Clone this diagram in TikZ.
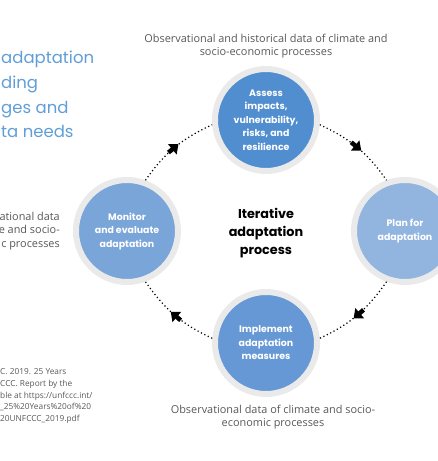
\documentclass[tikz,border=0pt]{standalone}
\usepackage{fontspec}
\setmainfont{Open Sans}
\newfontfamily\pop{Poppins}
\usetikzlibrary{arrows.meta,decorations.markings}
\definecolor{ring}{RGB}{234,234,234}
\definecolor{bA}{RGB}{80,142,208}
\definecolor{bM}{RGB}{122,165,216}
\definecolor{bP}{RGB}{146,181,224}
\definecolor{bI}{RGB}{102,152,213}
\definecolor{txtgray}{RGB}{88,88,88}
\definecolor{titleblue}{RGB}{96,158,216}
\tikzset{
  circ/.style={circle,draw=ring,line width=6pt,minimum size=102pt,inner sep=0pt},
  ctext/.style={text=white,align=center,font=\pop\bfseries\fontsize{9.4}{13.5}\selectfont},
  side/.style={text=txtgray,font=\fontsize{10.9}{13.3}\selectfont,inner sep=0pt},
  cyc/.style={line width=1.2pt,dash pattern=on 1.2pt off 2.6pt,
    postaction={decorate},
    decoration={markings,mark=at position 0.5 with {\draw[solid,line width=4.5pt,-{Triangle[length=8pt,width=13pt]}] (-8pt,0) -- (5pt,0);}}}
}
\begin{document}
\begin{tikzpicture}[x=1pt,y=1pt]
\useasboundingbox (0,0) rectangle (437,461);
% circles
\node[circ,fill=bA] (assess) at (266,341) {};
\node[circ,fill=bM] (monitor) at (127,230) {};
\node[circ,fill=bP] (plan) at (405,230) {};
\node[circ,fill=bI] (impl) at (266,118) {};
\node[ctext] (assessT) at (assess) {Assess\\impacts,\\vulnerability,\\risks, and\\resilience};
\node[ctext] (monitorT) at (monitor) {Monitor\\and evaluate\\adaptation};
\node[ctext] (planT) at (plan) {Plan for\\adaptation};
\node[ctext] (implT) at (impl) {Implement\\adaptation\\measures};
% centre
\node[align=center,font=\pop\bfseries\fontsize{12.8}{18}\selectfont] (centre) at (266,228) {Iterative\\adaptation\\process};
% cycle connectors
\draw[cyc] (assess.-5) to[out=-25,in=125] (plan.110);
\draw[cyc] (plan.-110) to[out=-125,in=25] (impl.5);
\draw[cyc] (impl.175) to[out=155,in=-55] (monitor.-70);
\draw[cyc] (monitor.70) to[out=55,in=-155] (assess.185);
% labels
\node[side,align=center] (topL) at (266,415) {Observational and historical data of climate and\\socio-economic processes};
\node[side,align=center] (botL) at (273,44) {Observational data of climate and socio-\\economic processes};
\node[side,align=right,anchor=east] (leftL) at (60,230) {ational data\\e and socio-\\c processes};
\node[side,align=left,anchor=north west,font=\fontsize{8.3}{11.9}\selectfont] (cite) at (0,93) {C. 2019. 25 Years\\CCC. Report by the\\ble at https://unfccc.int/\\\_25\%20Years\%20of\%20\\20UNFCCC\_2019.pdf};
\node[anchor=north west,align=left,inner sep=0pt,text=titleblue,font=\pop\fontsize{16.5}{24.7}\selectfont] (title) at (1,410) {adaptation\\ding\\ges and\\ta needs};
\end{tikzpicture}
\end{document}
